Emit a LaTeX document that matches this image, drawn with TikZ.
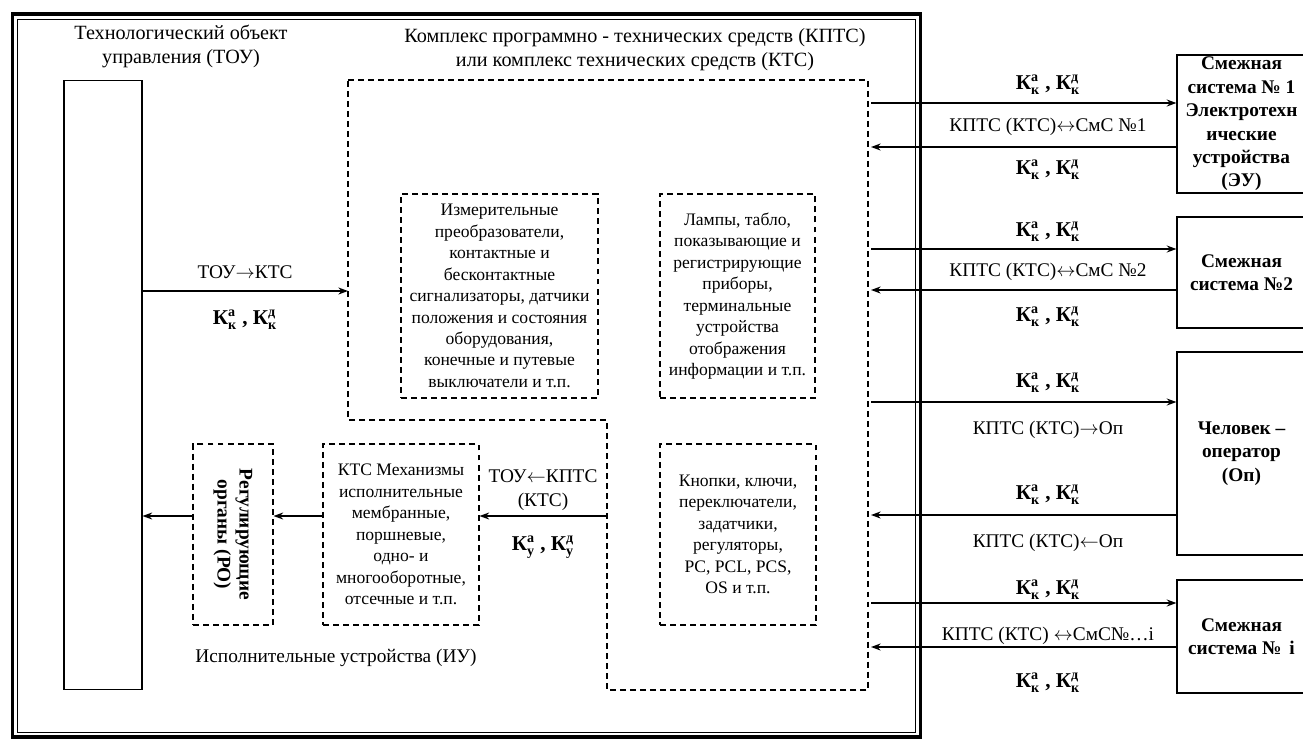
\documentclass[tikz,border=0pt]{standalone}
\usepackage{fontspec}
\setmainfont{Liberation Serif}
\usepackage{amsmath}
\usepackage{tikz}
\usetikzlibrary{arrows.meta}
\usetikzlibrary{positioning}

\newcommand{\kpair}[1]{{\fontsize{12}{14}\selectfont\textbf{К}$^{\textbf{а}}_{\textbf{#1}}$\textbf{ , К}$^{\textbf{д}}_{\textbf{#1}}$}}

\tikzset{
  dbox/.style={draw, dash pattern=on 3.4pt off 2.3pt, line width=0.6pt, align=center, inner sep=1pt,
               font=\fontsize{10}{12.2}\selectfont},
  sbox/.style={draw, line width=0.7pt, align=center, inner sep=0pt,
               font=\fontsize{11}{13.3}\selectfont\bfseries},
  lbl/.style={inner sep=0pt, align=center, font=\fontsize{11}{13.5}\selectfont},
}

\begin{document}
\begin{tikzpicture}[x=0.02cm, y=-0.02cm]
	\useasboundingbox (0,0) rectangle (1303,741);

	% frame
	\draw[line width=2.2pt] (12.5,14) rectangle (920.5,737);
	\draw[line width=0.6pt] (17.5,19.5) rectangle (915.5,732.5);

	% KPTS area
	\draw[dash pattern=on 3.4pt off 2.3pt, line width=0.6pt]
		(348,80) -- (868,80) -- (868,690) -- (607,690) -- (607,420) -- (348,420) -- cycle;
	\coordinate (k1) at (348,291);
	\coordinate (k2) at (607,516);
	\coordinate (o1) at (871,103);
	\coordinate (i1) at (871,147);
	\coordinate (o2) at (871,249);
	\coordinate (i2) at (871,290);
	\coordinate (o3) at (871,402);
	\coordinate (i3) at (871,515);
	\coordinate (o4) at (871,603);
	\coordinate (i4) at (871,647);

	\begin{scope}[every node/.style={lbl}]
		\node[font=\fontsize{11.5}{13.7}\selectfont] (toutitle) at (181,46) {Технологический объект\\управления (ТОУ)};
		\node[font=\fontsize{11.5}{13.7}\selectfont] (kptstitle) at (635,50) {Комплекс программно - технических средств (КПТС)\\или комплекс технических средств (КТС)};
		\node (iu) at (336,658) {Исполнительные устройства (ИУ)};
	\end{scope}

	\begin{scope}[every node/.style={dbox}]
		\node (izm) at (499.5,296) [minimum width=3.94cm, minimum height=4.08cm]
			{Измерительные\\преобразователи,\\контактные и\\бесконтактные\\сигнализаторы, датчики\\положения и состояния\\оборудования,\\конечные и путевые\\выключатели и т.п.};
		\node (lamp) at (737.5,296) [minimum width=3.1cm, minimum height=4.08cm]
			{Лампы, табло,\\показывающие и\\регистрирующие\\приборы,\\терминальные\\устройства\\отображения\\информации и т.п.};
		\node (knop) at (738,534.5) [minimum width=3.12cm, minimum height=3.62cm]
			{Кнопки, ключи,\\переключатели,\\задатчики,\\регуляторы,\\PC, PCL, PCS,\\OS и т.п.};
		\node (mech) at (401,534.5) [minimum width=3.12cm, minimum height=3.62cm]
			{КТС Механизмы\\исполнительные\\мембранные,\\поршневые,\\одно- и\\многооборотные,\\отсечные и т.п.};
		\node (ro) at (233,534.5) [minimum width=1.6cm, minimum height=3.62cm] {};
	\end{scope}
	\node[rotate=-90, align=center, inner sep=0pt, font=\fontsize{11}{12.5}\selectfont\bfseries] (rotext) at (ro.center) {Регулирующие\\органы (РО)};

	\begin{scope}[every node/.style={sbox}]
		\node (tou) at (103,385) [minimum width=1.56cm, minimum height=12.2cm, line width=0.6pt] {};
		\node (s1) at (1241.5,124) [minimum width=2.58cm, minimum height=2.76cm] {Смежная\\система № 1\\Электротехн\\ические\\устройства\\(ЭУ)};
		\node (s2) at (1241.5,272.5) [minimum width=2.58cm, minimum height=2.22cm] {Смежная\\система №2};
		\node (s3) at (1241.5,453.5) [minimum width=2.58cm, minimum height=4.06cm] {Человек –\\оператор\\(Оп)};
		\node (s4) at (1241.5,636.5) [minimum width=2.58cm, minimum height=2.26cm] {Смежная\\система №\, i};
	\end{scope}

	\begin{scope}[every node/.style={lbl}]
		\node (a1) at (245,272) {ТОУ$\rightarrow$КТС};
		\node (a2) at (245,320) {\kpair{к}};
		\node (a3) at (543,490) {ТОУ$\leftarrow$КПТС\\(КТС)};
		\node (a4) at (543,547) {\kpair{у}};
		\node (b1) at (1048,85) {\kpair{к}};
		\node (b2) at (1048,127) {КПТС (КТС)$\leftrightarrow$СмС №1};
		\node (b3) at (1048,170) {\kpair{к}};
		\node (c1) at (1048,232) {\kpair{к}};
		\node (c2) at (1048,272) {КПТС (КТС)$\leftrightarrow$СмС №2};
		\node (c3) at (1048,317) {\kpair{к}};
		\node (d1) at (1048,383) {\kpair{к}};
		\node (d2) at (1048,430) {КПТС (КТС)$\rightarrow$Оп};
		\node (d3) at (1048,495) {\kpair{к}};
		\node (d4) at (1048,543) {КПТС (КТС)$\leftarrow$Оп};
		\node (e1) at (1048,590) {\kpair{к}};
		\node (e2) at (1048,636) {КПТС (КТС) $\leftrightarrow$СмС№…i};
		\node (e3) at (1048,683) {\kpair{к}};
	\end{scope}

	\begin{scope}[>={Stealth[length=5.5pt, width=4pt]},
	              every edge/.style={draw=black, line width=0.7pt, ->}]
		\path (tou.east |- k1) edge (k1);
		\path (k2) edge (mech.east |- k2);
		\path (mech.west |- k2) edge (ro.east |- k2);
		\path (ro.west |- k2) edge (tou.east |- k2);
		\path (o1) edge (o1 -| s1.west);
		\path (s1.west |- i1) edge (i1);
		\path (o2) edge (o2 -| s2.west);
		\path (s2.west |- i2) edge (i2);
		\path (o3) edge (o3 -| s3.west);
		\path (s3.west |- i3) edge (i3);
		\path (o4) edge (o4 -| s4.west);
		\path (s4.west |- i4) edge (i4);
	\end{scope}
\end{tikzpicture}
\end{document}
